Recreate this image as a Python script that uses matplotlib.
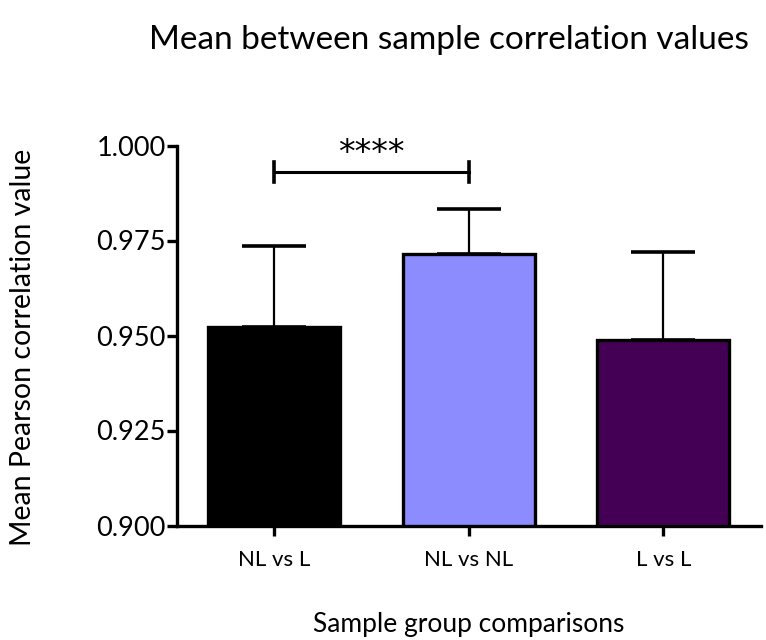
import numpy as np
import matplotlib
matplotlib.use("Agg")
import matplotlib.pyplot as plt

plt.rcParams["font.family"] = ["Lato", "DejaVu Sans"]

groups = ["NL vs L", "NL vs NL", "L vs L"]
means = [0.9522, 0.9715, 0.9488]
sd_up = [0.0214, 0.0118, 0.0232]
colors = ["#000000", "#8c8cff", "#440055"]
sig_pair = (0, 1)
sig_y = 0.9930
sig_label = "****"

fig = plt.figure(figsize=(7.66, 6.4), dpi=100)
ax = fig.add_axes([177/766, 1-525.5/640, 583.5/766, 380/640])

x = np.arange(len(groups))
ax.bar(x, means, width=0.68, color=colors, edgecolor="black", linewidth=2.4, zorder=2)
ax.errorbar(x, means, yerr=[np.zeros(len(sd_up)), sd_up], fmt="none", ecolor="black",
            elinewidth=1.6, capsize=23, capthick=2.6, zorder=1)

# significance bracket
x0, x1 = sig_pair
ax.plot([x0, x1], [sig_y, sig_y], color="black", lw=2.2, clip_on=False)
ax.plot([x0, x0], [sig_y-0.0027, sig_y+0.0027], color="black", lw=2.6, clip_on=False)
ax.plot([x1, x1], [sig_y-0.0027, sig_y+0.0027], color="black", lw=2.6, clip_on=False)
ax.text((x0+x1)/2, sig_y+0.0006, sig_label, ha="center", va="bottom", fontsize=24,
        family="DejaVu Sans", clip_on=False)

ax.set_xlim(-0.5, 2.5)
ax.set_ylim(0.9, 1.0)
ax.set_yticks([0.900, 0.925, 0.950, 0.975, 1.000])
ax.set_yticklabels(["0.900", "0.925", "0.950", "0.975", "1.000"], fontsize=19.5)
ax.set_xticks(x)
ax.set_xticklabels(groups, fontsize=16)
ax.tick_params(axis="both", direction="out", length=7, width=2.4, color="black")
ax.tick_params(axis="y", pad=1)
ax.tick_params(axis="x", pad=11)
for s in ["top", "right"]:
    ax.spines[s].set_visible(False)
for s in ["left", "bottom"]:
    ax.spines[s].set_linewidth(2.4)

ax.set_ylabel("Mean Pearson correlation value", fontsize=20.5)
ax.yaxis.set_label_coords((36-177)/583.5, 0.47)
ax.set_xlabel("Sample group comparisons", fontsize=19)
ax.xaxis.set_label_coords(0.5, (525.5-612)/380)
fig.text(449/766, 1-40/640, "Mean between sample correlation values", fontsize=24,
         ha="center", va="center")

fig.savefig("out.png", dpi=100)
